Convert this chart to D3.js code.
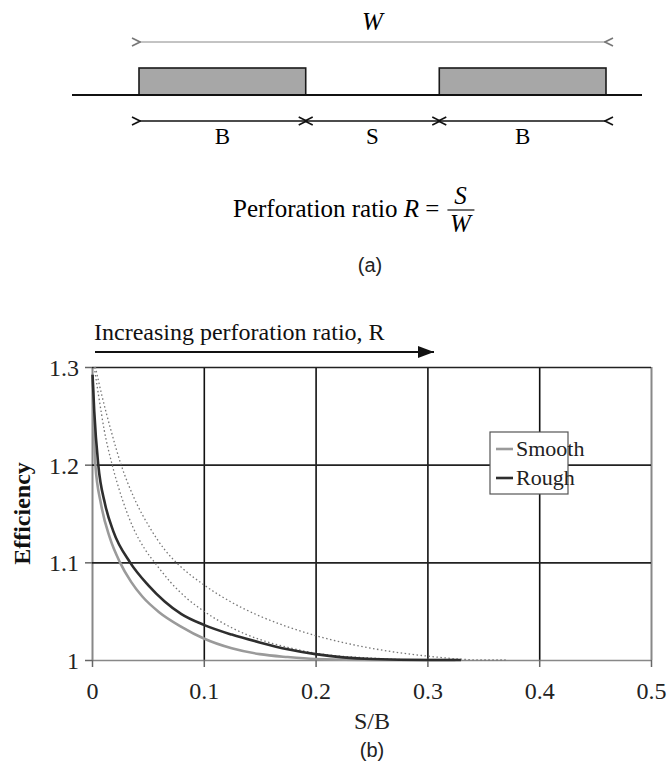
<!DOCTYPE html>
<html>
<head>
<meta charset="utf-8">
<script src="https://cdn.jsdelivr.net/npm/d3@7"></script>
<style>
body { margin: 0; background: #fff; }
svg { display: block; }
.serif { font-family: "Liberation Serif", "Times New Roman", serif; }
.sans { font-family: "Liberation Sans", Arial, sans-serif; }
</style>
</head>
<body>
<script>
var W = 670, H = 765;

// (a) perforation layout, in fractions of W
var blockNames = ["B", "S", "B"];
var blockWidths = [0.357, 0.286, 0.357];

// (b) efficiency vs S/B
var xTicks = [0, 0.1, 0.2, 0.3, 0.4, 0.5];
var yTicks = [1, 1.1, 1.2, 1.3];
var seriesNames = ["Smooth", "Rough"];

var sbSmooth  = [0.0005, 0.0015, 0.003, 0.008, 0.016, 0.025, 0.035, 0.045, 0.06, 0.08, 0.1, 0.125, 0.15, 0.175, 0.2, 0.25, 0.325];
var effSmooth = [1.292, 1.245, 1.2, 1.16, 1.125, 1.1, 1.08, 1.065, 1.049, 1.034, 1.022, 1.012, 1.006, 1.003, 1.001, 1.0, 1.0];

var sbRough  = [0.0005, 0.002, 0.0056, 0.0116, 0.019, 0.034, 0.05, 0.065, 0.08, 0.1, 0.125, 0.15, 0.175, 0.2, 0.25, 0.3, 0.33];
var effRough = [1.292, 1.255, 1.2, 1.16, 1.132, 1.1, 1.077, 1.06, 1.047, 1.036, 1.026, 1.018, 1.011, 1.006, 1.001, 1.0, 1.0];

var sbDotA  = [0.002, 0.006, 0.011, 0.018, 0.027, 0.037, 0.047, 0.058, 0.07, 0.085, 0.1, 0.125, 0.15, 0.175, 0.2, 0.25, 0.3, 0.32];
var effDotA = [1.3, 1.27, 1.235, 1.2, 1.165, 1.135, 1.114, 1.097, 1.08, 1.063, 1.05, 1.033, 1.021, 1.013, 1.007, 1.002, 1.0, 1.0];

var sbDotB  = [0.003, 0.009, 0.017, 0.026, 0.038, 0.052, 0.065, 0.078, 0.1, 0.125, 0.15, 0.175, 0.2, 0.25, 0.3, 0.35, 0.37];
var effDotB = [1.3, 1.27, 1.235, 1.2, 1.165, 1.135, 1.113, 1.097, 1.077, 1.059, 1.045, 1.034, 1.025, 1.012, 1.004, 1.0, 1.0];

var svg = d3.select('body').append('svg')
    .attr('width', W)
    .attr('height', H);

var defs = svg.append('defs');
function openHead(id, color) {
    defs.append('marker')
        .attr('id', id)
        .attr('viewBox', '-1 -6 12 12')
        .attr('refX', 0).attr('refY', 0)
        .attr('markerWidth', 12).attr('markerHeight', 12)
        .attr('markerUnits', 'userSpaceOnUse')
        .attr('orient', 'auto-start-reverse')
        .append('path')
        .attr('d', 'M8,-4 L0,0 L8,4')
        .attr('fill', 'none')
        .attr('stroke', color)
        .attr('stroke-width', 1.6);
}
openHead('headBlack', '#111');
openHead('headGrey', '#777');
defs.append('marker')
    .attr('id', 'headSolid')
    .attr('viewBox', '0 -6 16 12')
    .attr('refX', 16).attr('refY', 0)
    .attr('markerWidth', 16).attr('markerHeight', 12)
    .attr('markerUnits', 'userSpaceOnUse')
    .attr('orient', 'auto')
    .append('path')
    .attr('d', 'M0,-6 L16,0 L0,6 Z')
    .attr('fill', '#111');

/* ---------- (a) ---------- */
var xa = d3.scaleLinear().domain([0, 1]).range([139, 606]);
var a = svg.append('g');

var blocks = [];
var acc = 0;
blockWidths.forEach(function(w, i) {
    blocks.push({ name: blockNames[i], x0: acc, x1: acc + w });
    acc += w;
});

a.append('text').attr('class', 'serif')
    .attr('x', xa(0.5)).attr('y', 30)
    .attr('text-anchor', 'middle')
    .attr('font-size', 25).attr('font-style', 'italic')
    .text('W');
a.append('line')
    .attr('x1', xa(0) + 1).attr('x2', xa(1) - 1)
    .attr('y1', 42).attr('y2', 42)
    .attr('stroke', '#888').attr('stroke-width', 1)
    .attr('marker-start', 'url(#headGrey)')
    .attr('marker-end', 'url(#headGrey)');

a.selectAll('.plate')
    .data(blocks.filter(function(d) { return d.name == 'B'; })).enter()
    .append('rect')
    .attr('class', 'plate')
    .attr('x', function(d) { return xa(d.x0); })
    .attr('width', function(d) { return xa(d.x1) - xa(d.x0); })
    .attr('y', 68).attr('height', 27)
    .attr('fill', '#a7a7a7')
    .attr('stroke', '#1a1a1a').attr('stroke-width', 1.6);
a.append('line')
    .attr('x1', 72).attr('x2', 642)
    .attr('y1', 95).attr('y2', 95)
    .attr('stroke', '#111').attr('stroke-width', 2);

a.selectAll('.dim')
    .data(blocks).enter()
    .append('line')
    .attr('class', 'dim')
    .attr('x1', function(d) { return xa(d.x0) + 1; })
    .attr('x2', function(d) { return xa(d.x1) - 1; })
    .attr('y1', 121).attr('y2', 121)
    .attr('stroke', '#111').attr('stroke-width', 1.6)
    .attr('marker-start', 'url(#headBlack)')
    .attr('marker-end', 'url(#headBlack)');
a.selectAll('.dimlabel')
    .data(blocks).enter()
    .append('text')
    .attr('class', 'serif')
    .attr('x', function(d) { return xa((d.x0 + d.x1) / 2); })
    .attr('y', 144)
    .attr('text-anchor', 'middle')
    .attr('font-size', 23)
    .text(function(d) { return d.name; });

// formula
var fx = 233, fy = 217;
var ftxt = a.append('text').attr('class', 'serif')
    .attr('x', fx).attr('y', fy)
    .attr('font-size', 25);
ftxt.append('tspan').text('Perforation ratio ');
ftxt.append('tspan').attr('font-style', 'italic').text('R');
ftxt.append('tspan').text(' =');
var fracX = fx + ftxt.node().getComputedTextLength() + 8;
a.append('text').attr('class', 'serif')
    .attr('x', fracX + 13).attr('y', fy - 13)
    .attr('text-anchor', 'middle').attr('font-size', 25).attr('font-style', 'italic')
    .text('S');
a.append('line')
    .attr('x1', fracX).attr('x2', fracX + 27)
    .attr('y1', fy - 7).attr('y2', fy - 7)
    .attr('stroke', '#111').attr('stroke-width', 1.2);
a.append('text').attr('class', 'serif')
    .attr('x', fracX + 13).attr('y', fy + 15)
    .attr('text-anchor', 'middle').attr('font-size', 25).attr('font-style', 'italic')
    .text('W');

a.append('text').attr('class', 'sans')
    .attr('x', 370).attr('y', 272)
    .attr('text-anchor', 'middle')
    .attr('font-size', 20).attr('fill', '#222')
    .text('(a)');

/* ---------- (b) ---------- */
var x = d3.scaleLinear().domain([0, 0.5]).range([92, 651]);
var y = d3.scaleLinear().domain([1, 1.3]).range([660, 367]);

var b = svg.append('g');

b.append('text').attr('class', 'serif')
    .attr('x', 94).attr('y', 340)
    .attr('font-size', 24).attr('fill', '#111')
    .text('Increasing perforation ratio, R');
b.append('line')
    .attr('x1', 95).attr('x2', 434)
    .attr('y1', 352).attr('y2', 352)
    .attr('stroke', '#111').attr('stroke-width', 2)
    .attr('marker-end', 'url(#headSolid)');

// grid
b.append('g')
    .attr('transform', 'translate(0,' + y(1) + ')')
    .call(d3.axisBottom(x).tickValues(xTicks).tickSize(-(y(1) - y(1.3))).tickFormat(''))
    .call(function(g) {
        g.select('.domain').remove();
        g.selectAll('.tick line')
            .attr('stroke', function(d) { return (d == 0 || d == 0.5) ? '#888' : '#111'; })
            .attr('stroke-width', function(d) { return (d == 0 || d == 0.5) ? 2 : 1.6; });
    });
b.append('g')
    .attr('transform', 'translate(' + x(0) + ',0)')
    .call(d3.axisLeft(y).tickValues(yTicks).tickSize(-(x(0.5) - x(0))).tickFormat(''))
    .call(function(g) {
        g.select('.domain').remove();
        g.selectAll('.tick line')
            .attr('stroke', function(d) { return d == 1 ? '#888' : '#222'; })
            .attr('stroke-width', 1.6);
    });

// axes with outward ticks and labels
var yAxis = b.append('g')
    .attr('transform', 'translate(' + x(0) + ',0)')
    .call(d3.axisLeft(y).tickValues(yTicks).tickSize(7).tickPadding(6)
        .tickFormat(function(d) { return d == 1 ? '1' : d3.format('.1f')(d); }));
yAxis.select('.domain').remove();
yAxis.selectAll('.tick line').attr('stroke', '#666').attr('stroke-width', 1.5);
yAxis.selectAll('.tick text')
    .attr('class', 'serif').attr('font-size', 24).attr('fill', '#222').attr('dy', '0.35em');

var xAxis = b.append('g')
    .attr('transform', 'translate(0,' + y(1) + ')')
    .call(d3.axisBottom(x).tickValues(xTicks).tickSize(7).tickPadding(10)
        .tickFormat(function(d) { return d == 0 ? '0' : d3.format('.1f')(d); }));
xAxis.select('.domain').remove();
xAxis.selectAll('.tick line').attr('stroke', '#666').attr('stroke-width', 1.5);
xAxis.selectAll('.tick text')
    .attr('class', 'serif').attr('font-size', 24).attr('fill', '#222').attr('dy', '0.9em');

b.append('text').attr('class', 'serif')
    .attr('x', 372).attr('y', 729)
    .attr('text-anchor', 'middle')
    .attr('font-size', 24).attr('fill', '#222')
    .text('S/B');
b.append('text').attr('class', 'serif')
    .attr('transform', 'translate(30,' + y(1.15) + ') rotate(-90)')
    .attr('text-anchor', 'middle')
    .attr('font-size', 24).attr('font-weight', 'bold').attr('fill', '#111')
    .text('Efficiency');
b.append('text').attr('class', 'sans')
    .attr('x', 372).attr('y', 757)
    .attr('text-anchor', 'middle')
    .attr('font-size', 20).attr('fill', '#222')
    .text('(b)');

// curves
function pairs(xs, ys) {
    return xs.map(function(v, i) { return [v, ys[i]]; });
}
var line = d3.line()
    .x(function(d) { return x(d[0]); })
    .y(function(d) { return y(d[1]); })
    .curve(d3.curveMonotoneX);

var curves = [
    { pts: pairs(sbDotB, effDotB), color: '#777', width: 1.3, dash: '1.5,2.5' },
    { pts: pairs(sbDotA, effDotA), color: '#777', width: 1.3, dash: '1.5,2.5' },
    { pts: pairs(sbSmooth, effSmooth), color: '#9a9a9a', width: 2.6, dash: null },
    { pts: pairs(sbRough, effRough), color: '#2e2e2e', width: 2.6, dash: null }
];
b.selectAll('.curve')
    .data(curves).enter()
    .append('path')
    .attr('class', 'curve')
    .attr('fill', 'none')
    .attr('stroke', function(d) { return d.color; })
    .attr('stroke-width', function(d) { return d.width; })
    .attr('stroke-dasharray', function(d) { return d.dash; })
    .attr('d', function(d) { return line(d.pts); });

// legend
var lg = b.append('g').attr('transform', 'translate(490,432)');
lg.append('rect')
    .attr('width', 78).attr('height', 62)
    .attr('fill', '#fff')
    .attr('stroke', '#555').attr('stroke-width', 1.2);
var items = lg.selectAll('.item')
    .data(seriesNames).enter()
    .append('g')
    .attr('transform', function(d, i) { return 'translate(0,' + (17 + i * 29) + ')'; });
items.append('line')
    .attr('x1', 6).attr('x2', 23)
    .attr('stroke', function(d, i) { return curves[2 + i].color; })
    .attr('stroke-width', 2.6);
items.append('text').attr('class', 'serif')
    .attr('x', 26).attr('y', 7)
    .attr('font-size', 22).attr('fill', '#222')
    .text(function(d) { return d; });
</script>
</body>
</html>
